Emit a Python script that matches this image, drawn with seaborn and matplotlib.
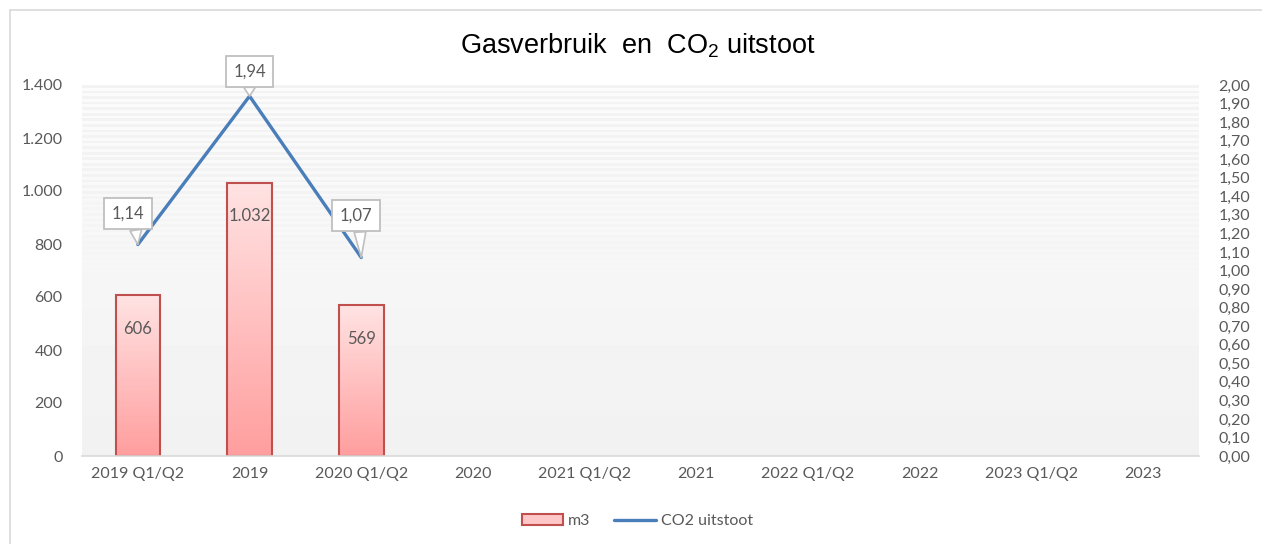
import numpy as np
import pandas as pd
import matplotlib.pyplot as plt
import seaborn as sns
from matplotlib.patches import Patch
from matplotlib.lines import Line2D

sns.set_style("white")
plt.rcParams['font.family'] = ['Lato', 'DejaVu Sans']

# Data
categories = ['2019 Q1/Q2', '2019', '2020 Q1/Q2', '2020', '2021 Q1/Q2',
              '2021', '2022 Q1/Q2', '2022', '2023 Q1/Q2', '2023']
m3 = [606, 1032, 569, None, None, None, None, None, None, None]
co2 = [1.14, 1.94, 1.07]
left_ticks = [0, 200, 400, 600, 800, 1000, 1200, 1400]
right_ticks = [i / 10 for i in range(21)]

grey_text = '#595959'
bar_edge = '#C0504D'
line_blue = '#4A7EBB'

df = pd.DataFrame({'periode': categories, 'm3': m3})

fig = plt.figure(figsize=(12.62, 5.44), dpi=100)
ax = fig.add_axes([82 / 1262, 1 - 456 / 544, 1117 / 1262, 371 / 544])

# outer chart border (top and left visible)
fig.add_artist(Line2D([10 / 1262, 1], [1 - 10 / 544] * 2, color='#D9D9D9', lw=1.2))
fig.add_artist(Line2D([10 / 1262] * 2, [0, 1 - 10 / 544], color='#D9D9D9', lw=1.2))

sns.barplot(data=df, x='periode', y='m3', order=categories, width=0.4,
            color='#FFC7C7', edgecolor=bar_edge, linewidth=1.5, ax=ax)
ax.set_ylim(0, 1400)
ax.set_xlim(-0.5, len(categories) - 0.5)

# gradient fill inside bars
grad = np.linspace(0, 1, 256).reshape(-1, 1)
bar_cmap = sns.blend_palette(['#FF9E9E', '#FFE3E3'], as_cmap=True)
for p in list(ax.patches):
    x0, y0 = p.get_x(), p.get_y()
    w, h = p.get_width(), p.get_height()
    if not np.isfinite(h) or h == 0:
        continue
    im = ax.imshow(grad, extent=[x0, x0 + w, y0, y0 + h], origin='lower',
                   cmap=bar_cmap, aspect='auto', zorder=p.get_zorder() - 0.01)
    im.set_clip_path(p)
    p.set_facecolor('none')

# background: light stripes on top fading to flat grey
rows = 400
bg = np.zeros((rows, 1))
for r in range(rows):
    frac = r / rows  # 0 at top
    base = 0.985 - 0.04 * frac
    if (r // 3) % 2 == 0 and frac < 0.55:
        base -= 0.035 * (1 - frac / 0.55)
    bg[r, 0] = base
ax.imshow(bg, extent=[0, 1, 0, 1], transform=ax.transAxes, cmap='gray',
          vmin=0, vmax=1, aspect='auto', zorder=-10, interpolation='nearest')
ax.set_ylim(0, 1400)
ax.set_xlim(-0.5, len(categories) - 0.5)

labels = [f"{v:,.0f}".replace(',', '.') for v in m3[:3]]
ax.bar_label(ax.containers[0], labels=labels + [''] * (len(ax.containers[0]) - 3),
             padding=-30, color=grey_text, fontsize=12)

ax.set_yticks(left_ticks)
ax.set_yticklabels([f"{v:,.0f}".replace(',', '.') for v in left_ticks])
ax.set_xlabel('')
ax.set_ylabel('')
ax.tick_params(axis='both', length=0, labelsize=11.5, colors=grey_text, pad=8)
ax.tick_params(axis='y', pad=14)
for s in ['top', 'left', 'right']:
    ax.spines[s].set_visible(False)
ax.spines['bottom'].set_color('#D9D9D9')
ax.spines['bottom'].set_linewidth(1.2)

# CO2 line on secondary axis
ax2 = ax.twinx()
sns.lineplot(x=list(range(len(co2))), y=co2, color=line_blue, linewidth=2.4, ax=ax2)
ax2.set_ylim(0, 2.0)
ax2.set_yticks(right_ticks)
ax2.set_yticklabels([f"{v:.2f}".replace('.', ',') for v in right_ticks])
ax2.tick_params(axis='y', length=0, labelsize=11.5, colors=grey_text, pad=14)
for s in ax2.spines.values():
    s.set_visible(False)

# callout labels: box offset and where the pointer leaves the box
offsets = [(-7, 22), (0, 18), (-4, 30)]
pointer_rel = [(0.70, 0.0), (0.5, 0.0), (0.62, 0.0)]
for i, v in enumerate(co2):
    ax2.annotate(f"{v:.2f}".replace('.', ','), xy=(i, v), xytext=offsets[i],
                 textcoords='offset points', ha='center', va='center',
                 fontsize=12, color=grey_text, zorder=5,
                 bbox=dict(boxstyle='square,pad=0.45', fc='white', ec='#BFBFBF', lw=1.3),
                 arrowprops=dict(arrowstyle='wedge,tail_width=0.7,shrink_factor=0.5',
                                 fc='white', ec='#BFBFBF', lw=1.2, shrinkA=0, shrinkB=0,
                                 relpos=pointer_rel[i]))

fig.text(0.505, 1 - 46 / 544, r'Gasverbruik  en  $\mathregular{CO_2}$ uitstoot',
         ha='center', va='center', fontsize=19.5, color='black',
         family=['Liberation Sans Narrow', 'Liberation Sans'])

handles = [Patch(facecolor='#FFC7C7', edgecolor=bar_edge, linewidth=1.5),
           Line2D([0], [0], color=line_blue, linewidth=2.4)]
leg = fig.legend(handles, ['m3', 'CO2 uitstoot'], loc='center', ncol=2,
                 bbox_to_anchor=(0.505, 1 - 521 / 544), frameon=False,
                 fontsize=11.5, handlelength=2.6, handletextpad=0.3, columnspacing=1.5)
for t in leg.get_texts():
    t.set_color(grey_text)

fig.savefig('out.png', dpi=100)
